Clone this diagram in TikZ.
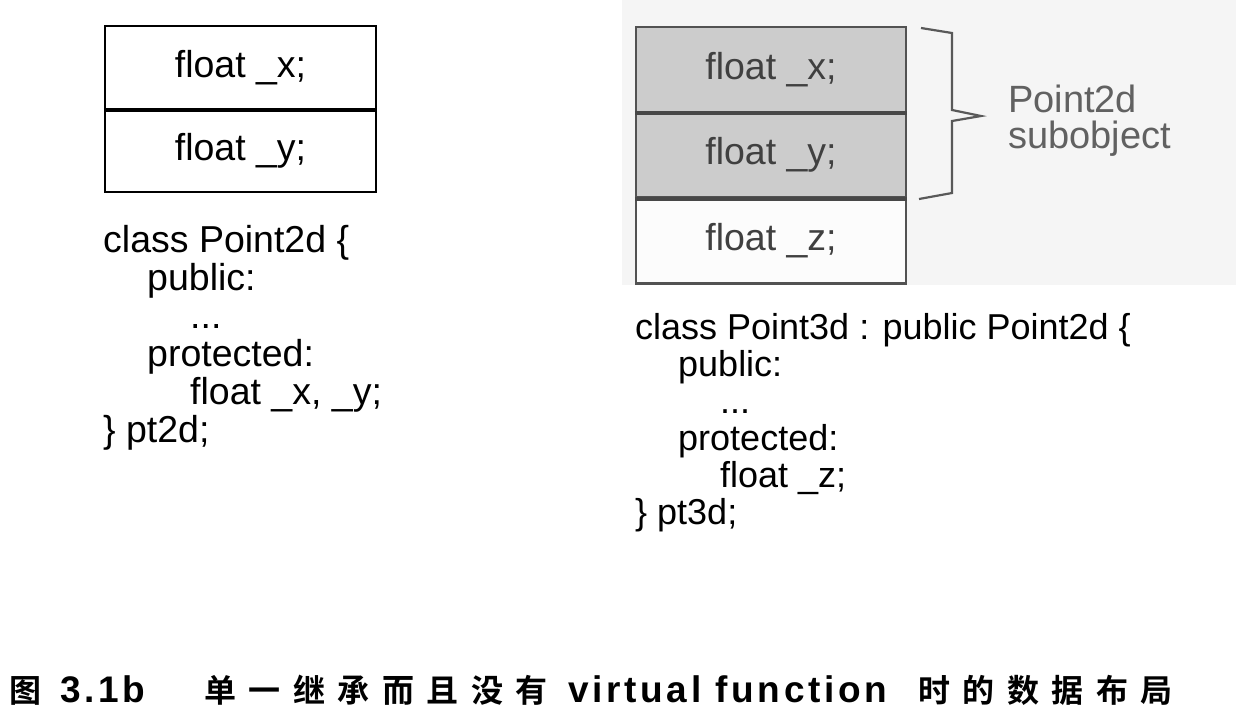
\documentclass[tikz,border=0pt]{standalone}
\usepackage{fontspec}
\setmainfont{Liberation Sans}
\newfontfamily\cjkb[LetterSpace=39]{Noto Sans CJK SC Bold}
\newfontfamily\cjkbs{Noto Sans CJK SC Bold}
\newfontfamily\latb[LetterSpace=10]{Liberation Sans Bold}
\begin{document}
\begin{tikzpicture}[x=1pt,y=-1pt,
  codetxt/.style={anchor=base west,inner sep=0pt,font=\fontsize{36}{37}\selectfont},
  codetxtl/.style={anchor=base west,inner sep=0pt,font=\fontsize{37.5}{37}\selectfont},
  blackbox/.style={draw=black,line width=2.5pt,minimum width=271pt,minimum height=83pt,inner sep=0pt,font=\fontsize{37.5}{37}\selectfont},
  greybox/.style={draw=black!68,line width=2.5pt,minimum width=270pt,minimum height=85pt,inner sep=0pt,text=black!75,font=\fontsize{37.5}{37}\selectfont},
  capt/.style={anchor=base west,inner sep=0pt,font=\fontsize{32}{32}\selectfont},
  captl/.style={anchor=base west,inner sep=0pt,font=\fontsize{37}{37}\selectfont}]
\useasboundingbox (0,0) rectangle (1248,718);
\fill[white] (0,0) rectangle (1248,718);
% right background
\fill[black!4] (622,0) rectangle (1236,285);

% left boxes
\node[blackbox] (lx) at (240.5,67.5) {float \_x;};
\node[blackbox] (ly) at (240.5,150.5) {float \_y;};
\draw[line width=4pt] (lx.south west) -- (lx.south east);

% right boxes
\node[greybox,fill=black!20] (rx) at (771,69.5) {float \_x;};
\node[greybox,fill=black!20] (ry) at (771,155) {float \_y;};
\node[greybox,fill=black!1] (rz) at (771,241) {float \_z;};
\draw[black!72,line width=4pt] (rx.south west) -- (rx.south east);
\draw[black!72,line width=4pt] (ry.south west) -- (ry.south east);

% brace
\coordinate (b1) at (921,28);
\coordinate (b2) at (952,33);
\coordinate (b3) at (952,110);
\coordinate (b4) at (981,116);
\coordinate (b5) at (952,121);
\coordinate (b6) at (952,193);
\coordinate (b7) at (919,199);
\draw[black!65,line width=2.2pt,line join=miter] (b1) -- (b2) -- (b3) -- (b4) -- (b5) -- (b6) -- (b7);
\node[anchor=base west,inner sep=0pt,text=black!62,font=\fontsize{38}{36}\selectfont] (sub1) at (1008,112) {Point2d};
\node[anchor=base west,inner sep=0pt,text=black!62,font=\fontsize{38}{36}\selectfont] (sub2) at (1008,148) {subobject};

% left code
\node[codetxtl] (a1) at (103,252) {class Point2d \{};
\node[codetxtl] (a2) at (147,290) {public:};
\node[codetxtl] (a3) at (190,328) {...};
\node[codetxtl] (a4) at (147,366) {protected:};
\node[codetxtl] (a5) at (190,404) {float \_x, \_y;};
\node[codetxtl] (a6) at (103,442) {\} pt2d;};

% right code
\node[codetxt] (c1) at (635,339) {class Point3d : public Point2d \{};
\node[codetxt] (c2) at (678,376) {public:};
\node[codetxt] (c3) at (720,413) {...};
\node[codetxt] (c4) at (678,450) {protected:};
\node[codetxt] (c5) at (720,487) {float \_z;};
\node[codetxt] (c6) at (635,524) {\} pt3d;};

% caption
\node[capt] (t1) at (9,702) {\cjkbs 图};
\node[captl] (t2) at (60,702) {\latb 3.1b};
\node[capt] (t3) at (204,702) {\cjkb 单一继承而且没有};
\node[captl] (t4) at (568,702) {\latb virtual function};
\node[capt] (t5) at (918,702) {\cjkb 时的数据布局};
\end{tikzpicture}
\end{document}
